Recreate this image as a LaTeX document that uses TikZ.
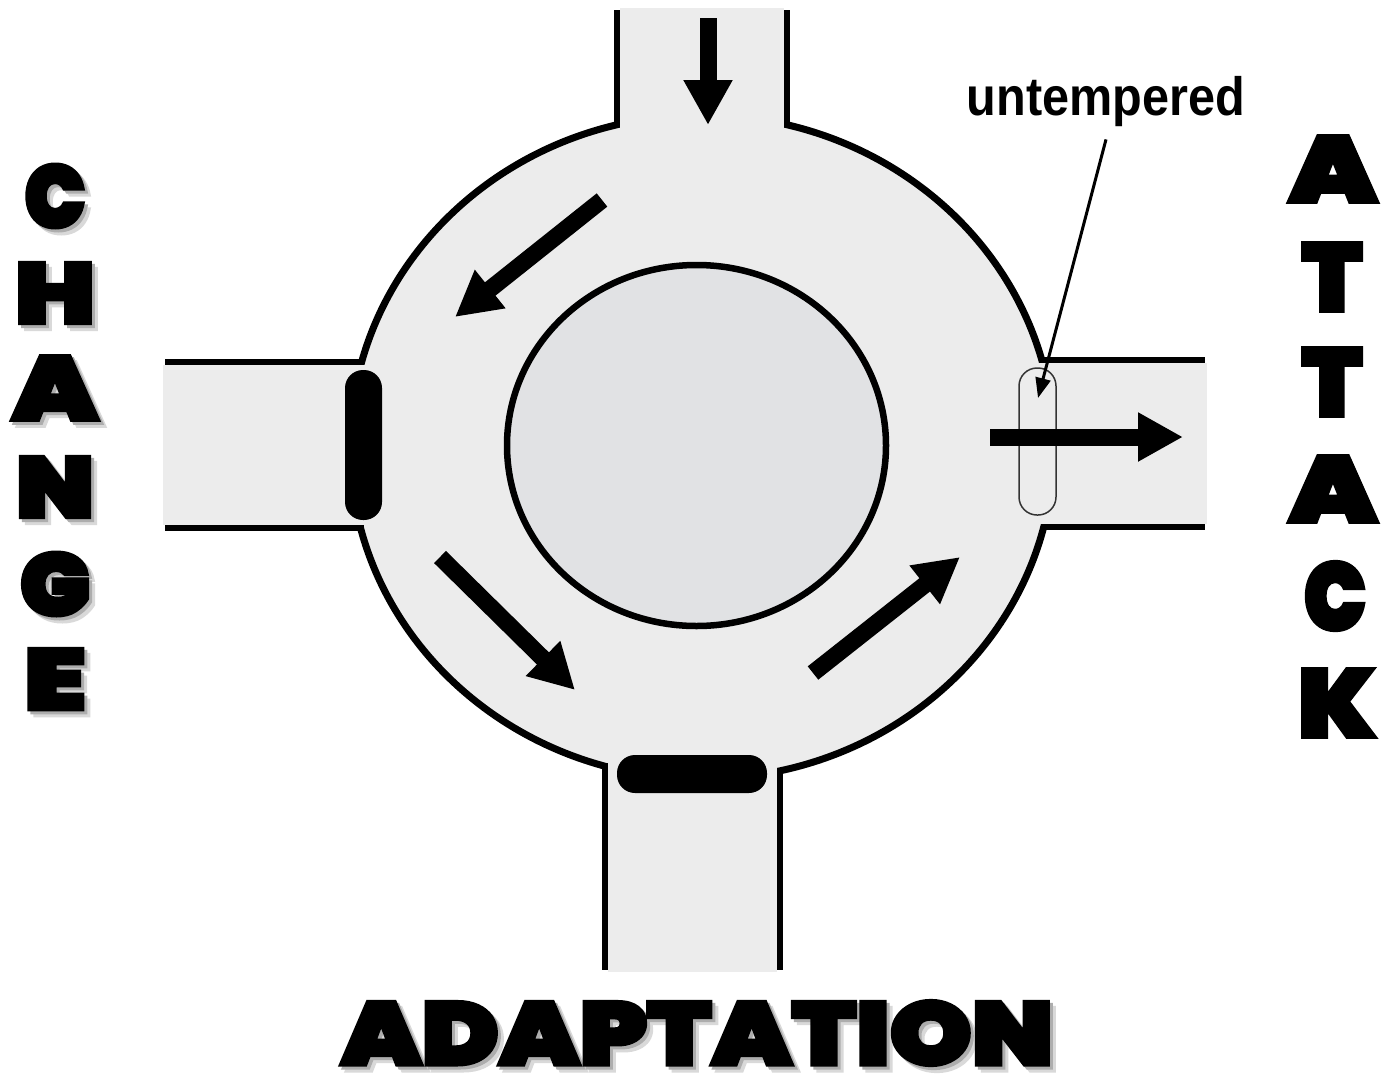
\documentclass[tikz,border=0pt]{standalone}
\usepackage{fontspec}
\usepackage{graphicx}
\usetikzlibrary{arrows.meta,shapes.geometric}
\setmainfont{Liberation Sans}
\IfFontExistsTF{Poppins Black}
  {\newfontfamily\bigfont{Poppins Black}[FakeBold=4]}
  {\newfontfamily\bigfont{DejaVu Sans Bold}[FakeBold=10]}
\definecolor{road}{HTML}{ECECEC}
\definecolor{hub}{HTML}{E1E2E4}
\tikzset{
  edge/.style={line width=6pt, line cap=butt},
  flow/.style={line width=17pt, -{Triangle[length=45pt,width=46pt]}},
  bar/.style={fill=black, rounded corners=18pt, inner sep=0pt},
  bigtxt/.style={inner sep=0pt, text=black},
  shadowA/.style={inner sep=0pt, text=black!15},
  shadowB/.style={inner sep=0pt, text=black!32},
}
\newcommand\bigletter[6]{%
  \node[shadowA] (#1t) at (#2+6,#3+6) {\resizebox{#4pt}{#5pt}{\bigfont #6}};
  \node[shadowB] (#1s) at (#2+3,#3+3) {\resizebox{#4pt}{#5pt}{\bigfont #6}};
  \node[bigtxt] (#1) at (#2,#3) {\resizebox{#4pt}{#5pt}{\bigfont #6}};}
\newcommand\plainletter[6]{%
  \node[bigtxt] (#1) at (#2,#3) {\resizebox{#4pt}{#5pt}{\bigfont #6}};}
\begin{document}
\begin{tikzpicture}[x=1pt,y=-1pt]
\useasboundingbox[fill=white] (0,0) rectangle (1383,1074);
% roundabout
\node[ellipse, draw, line width=7pt, fill=road, minimum width=704pt, minimum height=664pt, inner sep=0pt] (outer) at (702,447) {};
% road surfaces
\fill[road] (620,8) rectangle (784,140);
\fill[road] (608,750) rectangle (777,972);
\fill[road] (163,365) rectangle (375,525);
\fill[road] (1030,363) rectangle (1207,524);
% road edges
\draw[edge] (617,10) -- (617,127);
\draw[edge] (787,10) -- (787,127);
\draw[edge] (605,763) -- (605,970);
\draw[edge] (780,768) -- (780,970);
\draw[edge] (165,362) -- (364,362);
\draw[edge] (165,528) -- (364,528);
\draw[edge] (1040,360) -- (1205,360);
\draw[edge] (1042,527) -- (1205,527);
% central island
\node[ellipse, draw, line width=6.5pt, fill=hub, minimum width=379pt, minimum height=361pt, inner sep=0pt] (hub) at (696.5,445.5) {};
% barriers
\node[bar, minimum width=37pt, minimum height=150pt] (yieldL) at (363.5,445) {};
\node[bar, minimum width=150pt, minimum height=38pt] (yieldB) at (692,774) {};
\node[draw=black!80, line width=1.5pt, rounded corners=18pt, minimum width=37pt, minimum height=147pt, inner sep=0pt] (gate) at (1037.5,441.5) {};
% flow arrows
\coordinate (inT) at (708,18);   \coordinate (inB) at (708,125);
\coordinate (ulA) at (602,200);  \coordinate (ulB) at (455,317);
\coordinate (llA) at (440,557);  \coordinate (llB) at (575,690);
\coordinate (lrA) at (813,673);  \coordinate (lrB) at (960,557);
\coordinate (exA) at (990,437);  \coordinate (exB) at (1183,437);
\draw[flow] (inT) -- (inB);
\draw[flow] (ulA) -- (ulB);
\draw[flow] (llA) -- (llB);
\draw[flow] (lrA) -- (lrB);
\draw[flow] (exA) -- (exB);
% label
\node[anchor=base, inner sep=0pt, font=\bfseries\fontsize{54}{60}\selectfont] (lbl) at (1106,115) {\scalebox{0.9}[1]{untempered}};
\coordinate (tipA) at (1038,398);
\draw[line width=3pt, -{Triangle[length=20pt,width=15pt]}] ([yshift=-13pt]lbl.south) -- (tipA);
% big words
\bigletter{c1}{55}{196}{61}{63}{C}
\bigletter{c2}{55}{293}{80}{61}{H}
\bigletter{c3}{55}{388}{86}{64}{A}
\bigletter{c4}{55}{487}{78}{61}{N}
\bigletter{c5}{55}{584}{70}{63}{G}
\bigletter{c6}{55}{679}{62}{61}{E}
\plainletter{a1}{1333}{169}{88}{66}{A}
\plainletter{a2}{1332}{277}{60}{68}{T}
\plainletter{a3}{1332}{382}{60}{68}{T}
\plainletter{a4}{1333}{489}{88}{66}{A}
\plainletter{a5}{1335}{596}{62}{68}{C}
\plainletter{a6}{1337}{703}{78}{68}{K}
\bigletter{ad}{697}{1033}{712}{64}{ADAPTATION}
\end{tikzpicture}
\end{document}
